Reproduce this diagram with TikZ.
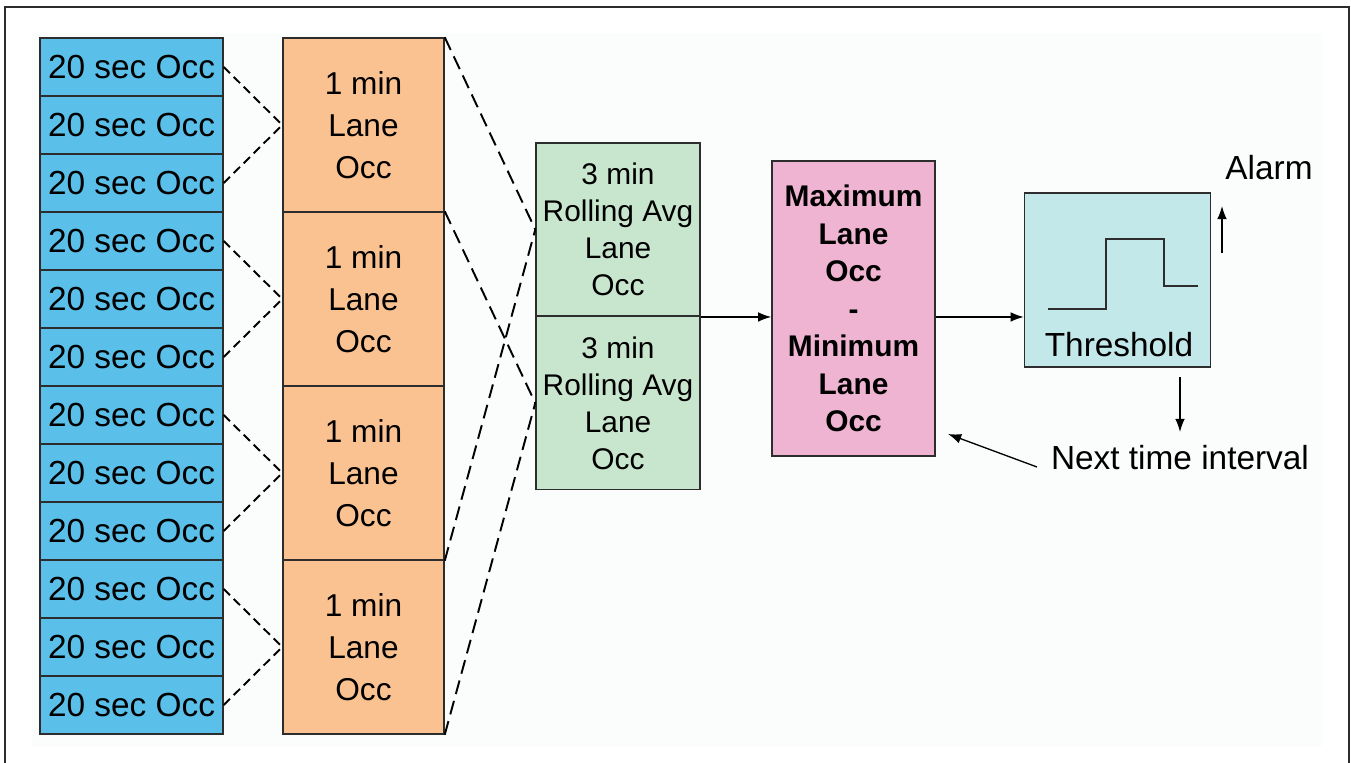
\documentclass[tikz,border=0pt]{standalone}
\usepackage{fontspec}
\setmainfont{Liberation Sans}
\usetikzlibrary{arrows.meta}

\definecolor{secblue}{RGB}{90,192,234}
\definecolor{minorange}{RGB}{250,193,145}
\definecolor{avggreen}{RGB}{200,230,205}
\definecolor{diffpink}{RGB}{238,180,210}
\definecolor{threshcyan}{RGB}{195,232,234}
\definecolor{panelgrey}{RGB}{251,253,253}
\definecolor{edgegrey}{RGB}{45,45,45}

\tikzset{
  box/.style={draw=edgegrey, line width=0.85pt, inner sep=0pt, align=center},
  seccell/.style={box, fill=secblue, minimum width=3.66cm, minimum height=1.16cm,
    font=\fontsize{19}{23}\selectfont},
  mincell/.style={box, fill=minorange, minimum width=3.22cm, minimum height=3.48cm,
    font=\fontsize{18}{24}\selectfont},
  avgcell/.style={box, fill=avggreen, minimum width=3.28cm, minimum height=3.47cm,
    font=\fontsize{17}{21}\selectfont},
  diffcell/.style={box, fill=diffpink, minimum width=3.26cm, minimum height=5.9cm,
    font=\fontsize{17}{21.3}\selectfont\bfseries},
  threshbox/.style={box, fill=threshcyan, minimum width=3.72cm, minimum height=3.48cm},
  label/.style={inner sep=0pt, font=\fontsize{19}{23}\selectfont},
  shortdash/.style={line width=1.1pt, dash pattern=on 5pt off 3pt},
  longdash/.style={line width=1.1pt, dash pattern=on 8pt off 4pt},
  arr/.style={line width=0.75pt, -{Latex[length=7.5pt,width=5.5pt]}},
}

\begin{document}
\begin{tikzpicture}[x=0.02cm,y=-0.02cm]
%\draw[step=50,gray,very thin] (0,0) grid (1351,763); %background grid
\useasboundingbox (0,0) rectangle (1351,763);
\fill[panelgrey] (32,33) rectangle (1322,746);
\draw[edgegrey, line width=1.1pt] (5,763) -- (5,7) -- (1349,7) -- (1349,763);

% 20 sec column
\foreach \i in {1,...,12}
  \node[seccell] (b\i) at (131.5,{38+58*(\i-0.5)}) {20 sec Occ};

% 1 min column
\foreach \i in {1,...,4}
  \node[mincell] (o\i) at (363.5,{38+174*(\i-0.5)}) {1 min\\Lane\\Occ};

\foreach \i/\a/\c in {1/1/3,2/4/6,3/7/9,4/10/12}{
  \draw[shortdash] (b\a.east) -- (o\i.west);
  \draw[shortdash] (b\c.east) -- (o\i.west);
}

% 3 min rolling averages
\node[avgcell] (g1) at (618,229.5) {3 min\\Rolling Avg\\Lane\\Occ};
\node[avgcell] (g2) at (618,403) {3 min\\Rolling Avg\\Lane\\Occ};

\draw[longdash] (o1.north east) -- (g1.west);
\draw[longdash] (o3.south east) -- (g1.west);
\draw[longdash] (o2.north east) -- (g2.west);
\draw[longdash] (o4.south east) -- (g2.west);

% max - min
\node[diffcell] (p) at (853.5,308.5) {Maximum\\Lane\\Occ\\-\\Minimum\\Lane\\Occ};

% threshold
\node[threshbox] (t) at (1117.5,280) {};
\draw[edgegrey, line width=0.8pt] (1048,309) -- (1106,309) -- (1106,239) -- (1164,239) -- (1164,286) -- (1198,286);
\node[label] (thr) at (1119,345) {Threshold};

\draw[arr] (g1.south east) -- (g1.south east -| p.west);
\draw[arr] (g1.south east -| p.east) -- (g1.south east -| t.west);

\node[label] (alarm) at (1269,167.5) {Alarm};
\node[label] (next) at (1180,457.5) {Next time interval};

\coordinate (alarmfoot) at (1222,253);
\coordinate (alarmtip) at (1222,206);
\coordinate (downfoot) at (1180,377);
\coordinate (downtip) at (1180,432);
\coordinate (backfoot) at (1037,467);
\coordinate (backtip) at (948,434);

\draw[arr] (alarmfoot) -- (alarmtip);
\draw[arr] (downfoot) -- (downtip);
\draw[arr] (backfoot) -- (backtip);

\end{tikzpicture}
\end{document}
